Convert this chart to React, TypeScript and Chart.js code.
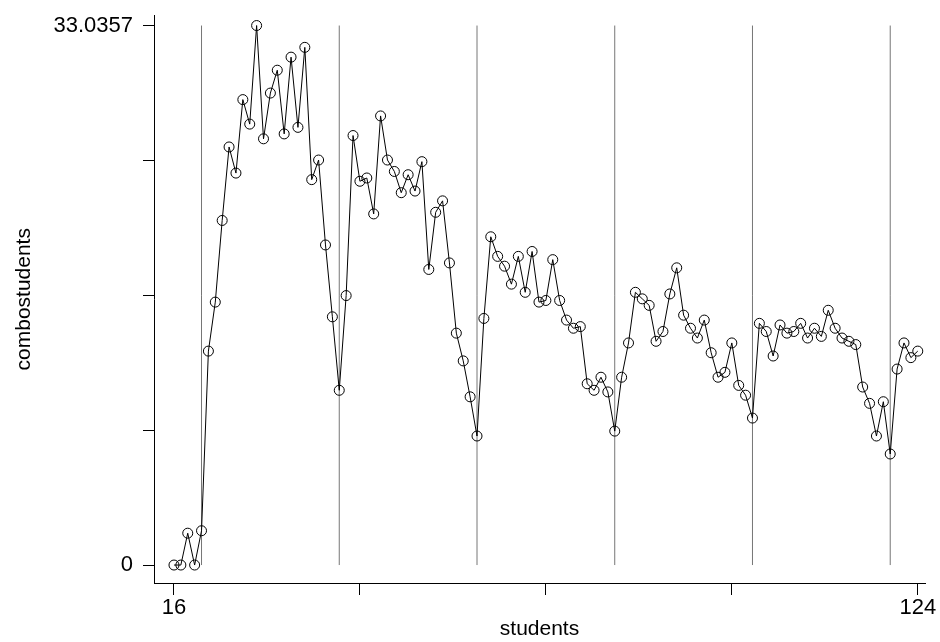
import React, { useEffect, useRef } from 'react';
import { Chart, registerables } from 'chart.js';

Chart.register(...registerables);

const students = [
  16, 17, 18, 19, 20, 21, 22, 23, 24, 25, 26, 27, 28, 29, 30, 31, 32, 33, 34, 35,
  36, 37, 38, 39, 40, 41, 42, 43, 44, 45, 46, 47, 48, 49, 50, 51, 52, 53, 54, 55,
  56, 57, 58, 59, 60, 61, 62, 63, 64, 65, 66, 67, 68, 69, 70, 71, 72, 73, 74, 75,
  76, 77, 78, 79, 80, 81, 82, 83, 84, 85, 86, 87, 88, 89, 90, 91, 92, 93, 94, 95,
  96, 97, 98, 99, 100, 101, 102, 103, 104, 105, 106, 107, 108, 109, 110, 111, 112, 113, 114, 115,
  116, 117, 118, 119, 120, 121, 122, 123, 124,
];

const combostudents = [
  0, 0, 1.95, 0, 2.1, 13.1, 16.1, 21.1, 25.6, 24.0, 28.5, 27.0, 33.0357, 26.1, 28.9, 30.3, 26.4, 31.1, 26.8, 31.7,
  23.6, 24.8, 19.6, 15.2, 10.7, 16.5, 26.3, 23.5, 23.7, 21.5, 27.5, 24.8, 24.1, 22.8, 23.9, 22.9, 24.7, 18.1, 21.6, 22.3,
  18.5, 14.2, 12.5, 10.3, 7.9, 15.1, 20.1, 18.9, 18.3, 17.2, 18.9, 16.7, 19.2, 16.1, 16.2, 18.7, 16.2, 15.0, 14.5, 14.6,
  11.1, 10.7, 11.5, 10.6, 8.2, 11.5, 13.6, 16.7, 16.3, 15.9, 13.7, 14.3, 16.6, 18.2, 15.3, 14.5, 13.9, 15.0, 13.0, 11.5,
  11.8, 13.6, 11.0, 10.4, 9.0, 14.8, 14.3, 12.8, 14.7, 14.2, 14.3, 14.8, 13.9, 14.5, 14.0, 15.6, 14.5, 13.9, 13.7, 13.5,
  10.9, 9.9, 7.9, 10.0, 6.8, 12.0, 13.6, 12.7, 13.1,
];

const xTickValues = [16, 43, 70, 97, 124];
const xTickLabels = ['16', '', '', '', '124'];
const yTickValues = [0, 8.258925, 16.51785, 24.776775, 33.0357];
const yTickLabels = ['0', '', '', '', '33.0357'];
const markerLines = [20, 40, 60, 80, 100, 120];
const markerBottom = 0;
const markerTop = 33.0357;

const FONT = "'Liberation Sans', Arial, sans-serif";

export default function App() {
  const ref = useRef<HTMLCanvasElement | null>(null);

  useEffect(() => {
    if (!ref.current) return;
    const markerSets = markerLines.map((m) => ({
      data: [
        { x: m, y: markerBottom },
        { x: m, y: markerTop },
      ],
      showLine: true,
      borderColor: 'rgba(60,60,60,0.7)',
      borderWidth: 1,
      pointRadius: 0,
      order: 2,
    }));
    const chart = new Chart(ref.current, {
      type: 'scatter',
      data: {
        datasets: [
          {
            data: students.map((s, i) => ({ x: s, y: combostudents[i] })),
            showLine: true,
            borderColor: '#000',
            borderWidth: 1,
            pointRadius: 5,
            pointBorderWidth: 1,
            pointBorderColor: '#000',
            pointBackgroundColor: 'rgba(0,0,0,0)',
            order: 1,
          },
          ...markerSets,
        ] as any,
      },
      options: {
        animation: false,
        responsive: false,
        devicePixelRatio: 1,
        layout: { padding: { top: 2, right: 15, bottom: 0, left: 0 } },
        plugins: { legend: { display: false }, tooltip: { enabled: false } },
        scales: {
          x: {
            type: 'linear',
            min: 13.1,
            max: 125.05,
            afterBuildTicks: (scale: any) => {
              scale.ticks = xTickValues.map((v) => ({ value: v }));
            },
            afterFit: (scale: any) => {
              scale.height = 59;
            },
            ticks: {
              autoSkip: false,
              maxRotation: 0,
              padding: 0,
              color: '#000',
              font: { family: FONT, size: 22 },
              callback: (_v: any, i: number) => xTickLabels[i],
            },
            grid: { drawOnChartArea: false, drawTicks: true, tickLength: 12, color: '#000' },
            border: { display: true, color: '#000', width: 1 },
            title: {
              display: true,
              text: 'students',
              color: '#000',
              font: { family: FONT, size: 21 },
              padding: { top: 0, bottom: 0 },
            },
          },
          y: {
            type: 'linear',
            min: -1.1,
            max: 33.65,
            afterBuildTicks: (scale: any) => {
              scale.ticks = yTickValues.map((v) => ({ value: v }));
            },
            afterFit: (scale: any) => {
              scale.width = 154;
            },
            ticks: {
              autoSkip: false,
              padding: 10,
              color: '#000',
              font: { family: FONT, size: 22, lineHeight: 0.5 },
              callback: (_v: any, i: number) => yTickLabels[i],
            },
            grid: { drawOnChartArea: false, drawTicks: true, tickLength: 11, color: '#000' },
            border: { display: true, color: '#000', width: 1 },
            title: {
              display: true,
              text: 'combostudents',
              color: '#000',
              font: { family: FONT, size: 21 },
              padding: { top: 12, bottom: 0 },
            },
          },
        },
      },
    });
    return () => chart.destroy();
  }, []);

  return (
    <div style={{ position: 'absolute', left: 0, top: 0, width: 940, height: 642, background: '#fff' }}>
      <canvas ref={ref} width={940} height={642} />
    </div>
  );
}
